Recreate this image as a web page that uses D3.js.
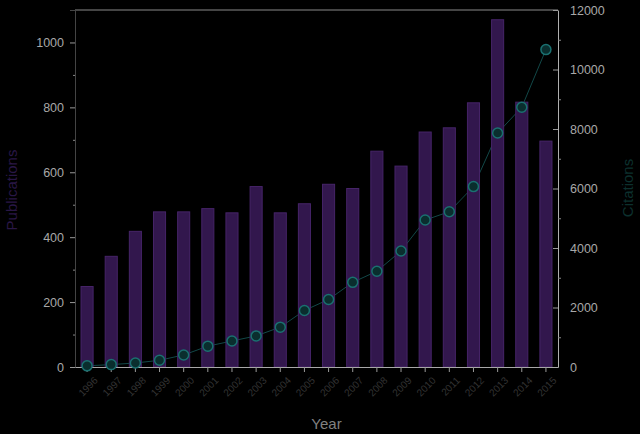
<!DOCTYPE html>
<html>
<head>
<meta charset="utf-8">
<script src="https://cdn.jsdelivr.net/npm/d3@7"></script>
<style>
  body { margin: 0; background: #000; }
  svg { display: block; background: #000; font-family: "Liberation Sans", Arial, sans-serif; }
</style>
</head>
<body>
<div class="chart"></div>
<script>
var years = ["1996", "1997", "1998", "1999", "2000", "2001", "2002", "2003", "2004", "2005",
             "2006", "2007", "2008", "2009", "2010", "2011", "2012", "2013", "2014", "2015"];
var publications = [248, 341, 418, 478, 478, 488, 475, 556, 475, 503,
                    563, 550, 665, 619, 724, 737, 814, 1070, 816, 696];
var citations = [40, 80, 135, 225, 405, 700, 875, 1045, 1340, 1900,
                 2270, 2845, 3220, 3900, 4940, 5220, 6065, 7865, 8730, 10670];
var leftTicks = [0, 200, 400, 600, 800, 1000];
var rightTicks = [0, 2000, 4000, 6000, 8000, 10000, 12000];

var svgWidth = 640;
var svgHeight = 434;
var margin = { top: 10, right: 82, bottom: 67, left: 75 };
var width = svgWidth - margin.left - margin.right;
var height = svgHeight - margin.top - margin.bottom;

var svg = d3.select(".chart")
  .append("svg")
  .attr("width", svgWidth)
  .attr("height", svgHeight);

var chartGroup = svg.append("g")
  .attr("transform", `translate(${margin.left}, ${margin.top})`);

// scales
var xScale = d3.scaleBand()
  .domain(years)
  .range([0, width])
  .paddingInner(0.5)
  .paddingOuter(0.25);

var yPub = d3.scaleLinear().domain([0, 1100]).range([height, 0]);
var yCit = d3.scaleLinear().domain([0, 12000]).range([height, 0]);

var cx = d => xScale(d) + xScale.bandwidth() / 2;

// citation line (sits behind the bars, barely visible)
var line = d3.line()
  .x((d, i) => cx(years[i]))
  .y(d => yCit(d));

chartGroup.append("path")
  .datum(citations)
  .attr("d", line)
  .attr("fill", "none")
  .attr("stroke", "#124848")
  .attr("stroke-width", 1);

// bars
chartGroup.selectAll("rect.bar")
  .data(publications)
  .enter()
  .append("rect")
  .attr("class", "bar")
  .attr("x", (d, i) => xScale(years[i]))
  .attr("y", d => yPub(d))
  .attr("width", xScale.bandwidth())
  .attr("height", d => height - yPub(d))
  .attr("fill", "#32174d")
  .attr("stroke", "#462468")
  .attr("stroke-width", 1);

// frame top line
chartGroup.append("line")
  .attr("x1", 0).attr("x2", width)
  .attr("y1", 0).attr("y2", 0)
  .attr("stroke", "#8a8a8a");

// left axis
var leftAxis = d3.axisLeft(yPub).tickValues(leftTicks).tickFormat(d3.format("d")).tickSize(5).tickPadding(6);
var gl = chartGroup.append("g").call(leftAxis);
gl.select(".domain").attr("stroke", "#444");
gl.selectAll(".tick line").attr("stroke", "#999");
gl.selectAll("text").attr("fill", "#a8a8a8").style("font-size", "12.5px");

// minor left ticks
chartGroup.append("g")
  .call(d3.axisLeft(yPub).tickValues(d3.range(100, 1100, 200)).tickSize(2).tickFormat(""))
  .call(g => g.select(".domain").remove())
  .selectAll("line").attr("stroke", "#888");

// right axis
var rightAxis = d3.axisRight(yCit).tickValues(rightTicks).tickFormat(d3.format("d"))
  .tickSizeInner(-5).tickSizeOuter(0).tickPadding(12);
var gr = chartGroup.append("g")
  .attr("transform", `translate(${width}, 0)`)
  .call(rightAxis);
gr.select(".domain").attr("stroke", "#b0b0b0");
gr.selectAll(".tick line").attr("stroke", "#999");
gr.selectAll("text").attr("fill", "#a8a8a8").style("font-size", "12.5px");

chartGroup.append("g")
  .attr("transform", `translate(${width}, 0)`)
  .call(d3.axisRight(yCit).tickValues(d3.range(1000, 12000, 2000)).tickSize(3).tickFormat(""))
  .call(g => g.select(".domain").remove())
  .selectAll("line").attr("stroke", "#888");

// bottom axis
var bottomAxis = d3.axisBottom(xScale).tickSizeInner(5).tickSizeOuter(0).tickPadding(4);
var gb = chartGroup.append("g")
  .attr("transform", `translate(0, ${height})`)
  .call(bottomAxis);
gb.select(".domain").attr("stroke", "#a8a8a8");
gb.selectAll(".tick line").attr("stroke", "#999");
gb.selectAll("text")
  .attr("fill", "#333")
  .style("font-size", "10px")
  .attr("text-anchor", "end")
  .attr("dx", "-0.2em")
  .attr("dy", "0.9em")
  .attr("transform", "rotate(-45)");

// citation points
chartGroup.selectAll("circle")
  .data(citations)
  .enter()
  .append("circle")
  .attr("cx", (d, i) => cx(years[i]))
  .attr("cy", d => yCit(d))
  .attr("r", 5)
  .attr("fill", "#0a2e2e")
  .attr("stroke", "#1a7070")
  .attr("stroke-width", 1.5);

// axis titles
svg.append("text")
  .attr("transform", `translate(17, ${margin.top + 180}) rotate(-90)`)
  .attr("text-anchor", "middle")
  .attr("fill", "#2a1746")
  .style("font-size", "15px")
  .text("Publications");

svg.append("text")
  .attr("transform", `translate(633, ${margin.top + 178}) rotate(-90)`)
  .attr("text-anchor", "middle")
  .attr("fill", "#0c302e")
  .style("font-size", "15px")
  .text("Citations");

svg.append("text")
  .attr("x", margin.left + width / 2 + 10)
  .attr("y", 429)
  .attr("text-anchor", "middle")
  .attr("fill", "#808080")
  .style("font-size", "15px")
  .text("Year");
</script>
</body>
</html>
